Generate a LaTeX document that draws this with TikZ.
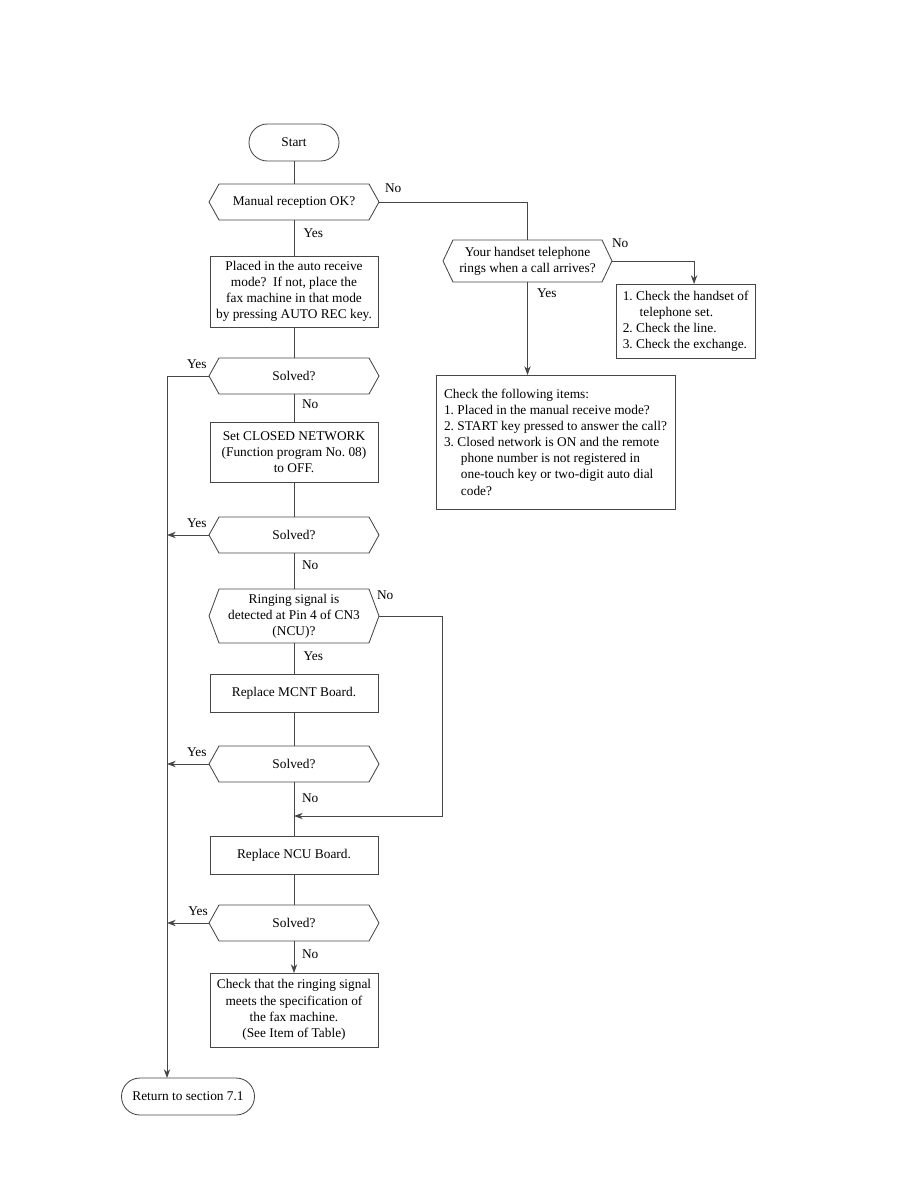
\documentclass[tikz,border=0pt]{standalone}
\usepackage{fontspec}
\setmainfont{Liberation Serif}
\usetikzlibrary{arrows.meta,positioning,calc}
\frenchspacing
\definecolor{LineGray}{RGB}{70,70,70}
\tikzset{
  flowline/.style={line width=0.6pt,draw=LineGray},
  flowarrow/.style={-{Stealth[length=2.2mm,width=1.6mm]},line width=0.6pt,draw=LineGray},
  procbox/.style={draw=LineGray,line width=0.6pt,rectangle,minimum width=4.2cm,
    align=center,inner sep=2pt,outer sep=0pt},
  termbox/.style={draw=LineGray,line width=0.6pt,rectangle,rounded corners=4.6mm,
    minimum height=0.925cm,align=center,outer sep=0pt},
  notebox/.style={draw=LineGray,line width=0.6pt,rectangle,align=left,
    inner ysep=2pt,outer sep=0pt},
  decision/.style={rectangle,minimum width=4.25cm,minimum height=0.9cm,
    align=center,inner sep=2pt,outer sep=0pt,
    append after command={\pgfextra{\draw[flowline]
      ([xshift=0.25cm]\tikzlastnode.north west) -- ([xshift=-0.25cm]\tikzlastnode.north east)
      -- (\tikzlastnode.east) -- ([xshift=-0.25cm]\tikzlastnode.south east)
      -- ([xshift=0.25cm]\tikzlastnode.south west) -- (\tikzlastnode.west) -- cycle;}}},
  lbl/.style={inner sep=0pt,outer sep=0pt},
}
\begin{document}
\begin{tikzpicture}[every node/.style={font=\fontsize{9.5}{11.5}\selectfont}]
\useasboundingbox (0,0) rectangle (22.95,-29.7);
% main column
\node[termbox,minimum width=2.25cm] (start) at (7.35,-3.5625) {Start};
\node[decision,below=0.575cm of start] (manual) {Manual reception OK?};
\node[procbox,below=0.9cm of manual,minimum height=1.775cm] (autorec)
  {Placed in the auto receive\\ mode?\ \ If not, place the\\ fax machine in that mode\\ by pressing AUTO REC key.};
\node[decision,below=0.775cm of autorec] (solvedA) {Solved?};
\node[procbox,below=0.7cm of solvedA,minimum height=1.5cm] (closednet)
  {Set CLOSED NETWORK\\ (Function program No. 08)\\ to OFF.};
\node[decision,below=0.875cm of closednet] (solvedB) {Solved?};
\node[decision,below=0.9cm of solvedB,minimum height=1.35cm] (ringing)
  {Ringing signal is\\ detected at Pin 4 of CN3\\ (NCU)?};
\node[procbox,below=0.775cm of ringing,minimum height=0.95cm] (mcnt) {Replace MCNT Board.};
\node[decision,below=0.85cm of mcnt] (solvedC) {Solved?};
\node[procbox,below=1.35cm of solvedC,minimum height=0.95cm] (ncu) {Replace NCU Board.};
\node[decision,below=0.775cm of ncu] (solvedD) {Solved?};
\node[procbox,below=0.8cm of solvedD,minimum height=1.85cm] (spec)
  {Check that the ringing signal\\ meets the specification of\\ the fax machine.\\ (See Item of Table)};
\node[termbox,minimum width=3.325cm,below=0.775cm of spec.south west,xshift=-0.55cm] (ret)
  {Return to section 7.1};
% right branch
\node[decision,below right=0.5cm and 1.6cm of manual,minimum width=4.225cm,minimum height=1.05cm] (handset)
  {Your handset telephone\\ rings when a call arrives?};
\node[notebox,below right=0.05cm and 0.1cm of handset,inner xsep=0.17cm,
  minimum height=1.85cm] (checkset)
  {1. Check the handset of\\ \hspace*{12pt}telephone set.\\ 2. Check the line.\\ 3. Check the exchange.};
\node[notebox,below=2.325cm of handset,xshift=0.7cm,inner xsep=0.2cm,
  minimum height=3.35cm] (items)
  {Check the following items:\\ 1. Placed in the manual receive mode?\\
   2. START key pressed to answer the call?\\ 3. Closed network is ON and the remote\\
   \hspace*{12pt}phone number is not registered in\\ \hspace*{12pt}one-touch key or two-digit auto dial\\
   \hspace*{12pt}code?};
\coordinate (bus) at ([xshift=-1.05cm]solvedA.west);
\coordinate[above=0.5cm of ncu] (merge);
% connectors
\draw[flowline] (start) -- (manual);
\draw[flowline] (manual) -- node[lbl,pos=0.36,right=0.24cm] {Yes} (autorec);
\draw[flowline] (autorec) -- (solvedA);
\draw[flowline] (solvedA) -- node[lbl,pos=0.37,right=0.2cm] {No} (closednet);
\draw[flowline] (closednet) -- (solvedB);
\draw[flowline] (solvedB) -- node[lbl,pos=0.33,right=0.2cm] {No} (ringing);
\draw[flowline] (ringing) -- node[lbl,pos=0.42,right=0.24cm] {Yes} (mcnt);
\draw[flowline] (mcnt) -- (solvedC);
\draw[flowline] (solvedC) -- node[lbl,pos=0.3,right=0.2cm] {No} (ncu);
\draw[flowline] (ncu) -- (solvedD);
\draw[flowarrow] (solvedD) -- node[lbl,pos=0.42,right=0.2cm] {No} (spec);
\draw[flowarrow] (ringing.east) -- ++(1.575cm,0) |- (merge);
\draw[flowarrow] (solvedA.west) -- (bus) -- (bus |- ret.north);
\draw[flowarrow] (solvedB.west) -- (bus |- solvedB.west);
\draw[flowarrow] (solvedC.west) -- (bus |- solvedC.west);
\draw[flowarrow] (solvedD.west) -- (bus |- solvedD.west);
\draw[flowline] (manual.east) -| (handset.north);
\draw[flowarrow] (handset.east) -| ([xshift=0.21cm]checkset.north);
\draw[flowarrow] (handset.south) -- node[lbl,pos=0.12,right=0.24cm] {Yes} (handset.south |- items.north);
% branch labels
\node[lbl,above right=0.24cm and 0.15cm of manual.east] {No};
\node[lbl,above right=0.34cm and 0cm of handset.east] {No};
\node[lbl,above right=0.41cm and -0.05cm of ringing.east] {No};
\node[lbl,above left=0.18cm and 0.06cm of solvedA.west] {Yes};
\node[lbl,above left=0.18cm and 0.06cm of solvedB.west] {Yes};
\node[lbl,above left=0.18cm and 0.06cm of solvedC.west] {Yes};
\node[lbl,above left=0.18cm and 0.03cm of solvedD.west] {Yes};
\end{tikzpicture}
\end{document}
